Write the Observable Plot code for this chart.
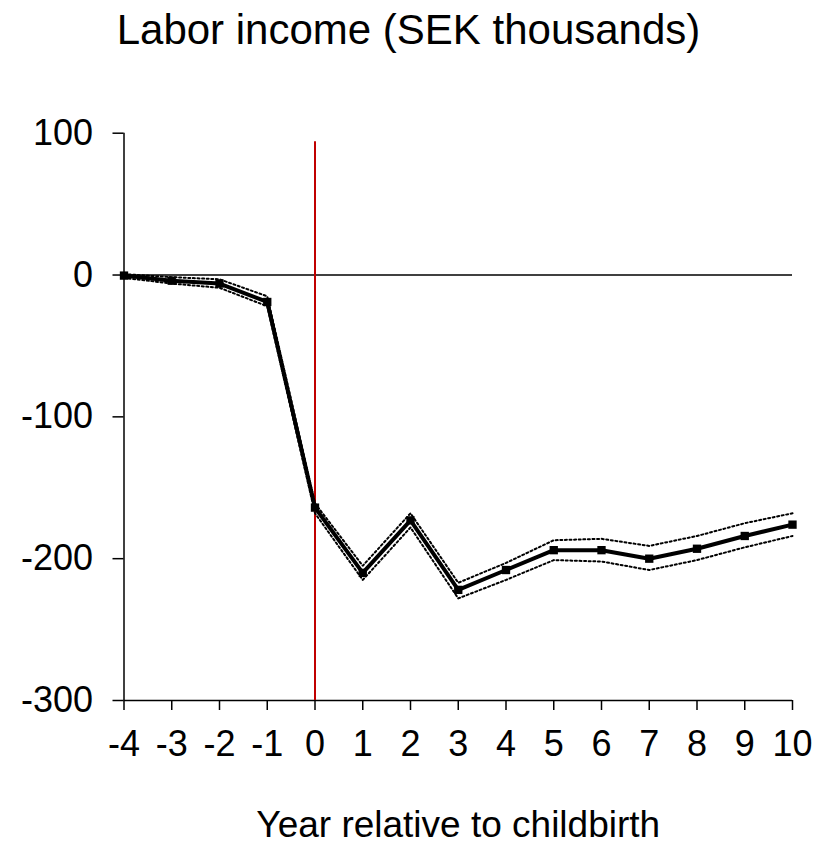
<!DOCTYPE html>
<html>
<head>
<meta charset="utf-8">
<script src="https://cdn.jsdelivr.net/npm/d3@7"></script>
<script src="https://cdn.jsdelivr.net/npm/@observablehq/plot@0.6"></script>
<style>
  html, body { margin: 0; padding: 0; background: #fff; }
  #wrap { position: relative; width: 817px; height: 846px; font-family: "Liberation Sans", Arial, sans-serif; }
  #title { position: absolute; left: 0; top: 9px; width: 817px; text-align: center;
           font-size: 42px; line-height: 42px; color: #000; }
  #chart { position: absolute; left: 0; top: 0; }
</style>
</head>
<body>
<div id="wrap">
  <div id="chart"></div>
  <div id="title">Labor income (SEK thousands)</div>
</div>
<script>
// Event-study estimates: years relative to childbirth
const years = [-4, -3, -2, -1, 0, 1, 2, 3, 4, 5, 6, 7, 8, 9, 10];
// Point estimates (SEK thousands)
const estimate = [-0.4, -4, -6, -19, -164, -210, -173, -222, -208, -194, -194, -200, -193, -184, -176];
// Upper and lower confidence bounds
const upper = [0.6, -1.5, -3, -15, -161, -205, -168, -217, -203, -187, -186, -191, -184, -175, -168];
const lower = [-2, -6, -9, -22, -168, -215, -178, -228, -215, -201, -202, -208, -201, -192, -184];
const yTicks = [-300, -200, -100, 0, 100];
const xLabel = "Year relative to childbirth";

const rows = years.map((t, i) => ({t, est: estimate[i], hi: upper[i], lo: lower[i]}));

const chart = Plot.plot({
  width: 817,
  height: 846,
  marginTop: 132.7,
  marginBottom: 146,
  marginLeft: 123.5,
  marginRight: 25,
  x: {domain: [-4, 10]},
  y: {domain: [-300, 100]},
  style: {fontFamily: "'Liberation Sans', Arial, sans-serif", fontSize: "36px", color: "#000", background: "#fff"},
  marks: [
    Plot.axisY({ticks: yTicks, tickSize: 11, tickPadding: 20, strokeWidth: 1.5, label: null, tickFormat: d => String(d)}),
    Plot.axisX({ticks: years, tickSize: 10, tickPadding: 20, strokeWidth: 1.5, label: null, tickFormat: d => String(d)}),
    // axis lines and zero reference
    Plot.ruleX([-4], {y1: -300, y2: 100, stroke: "#000", strokeWidth: 1.5}),
    Plot.ruleY([-300], {stroke: "#000", strokeWidth: 1.5}),
    Plot.ruleY([0], {stroke: "#000", strokeWidth: 1.5}),
    // childbirth marker
    Plot.ruleX([0], {y1: -300, y2: 94, stroke: "#c00000", strokeWidth: 2}),
    // confidence bounds
    Plot.line(rows, {x: "t", y: "hi", stroke: "#000", strokeWidth: 2, strokeDasharray: "2 2.6"}),
    Plot.line(rows, {x: "t", y: "lo", stroke: "#000", strokeWidth: 2, strokeDasharray: "2 2.6"}),
    // estimates
    Plot.line(rows, {x: "t", y: "est", stroke: "#000", strokeWidth: 4}),
    Plot.dot(rows, {x: "t", y: "est", symbol: "square", r: 4.7, fill: "#000", stroke: "none"}),
    Plot.text([xLabel], {frameAnchor: "bottom", dy: 125, lineAnchor: "middle", fontSize: 37, fill: "#000"})
  ]
});
document.getElementById("chart").appendChild(chart);
</script>
</body>
</html>
